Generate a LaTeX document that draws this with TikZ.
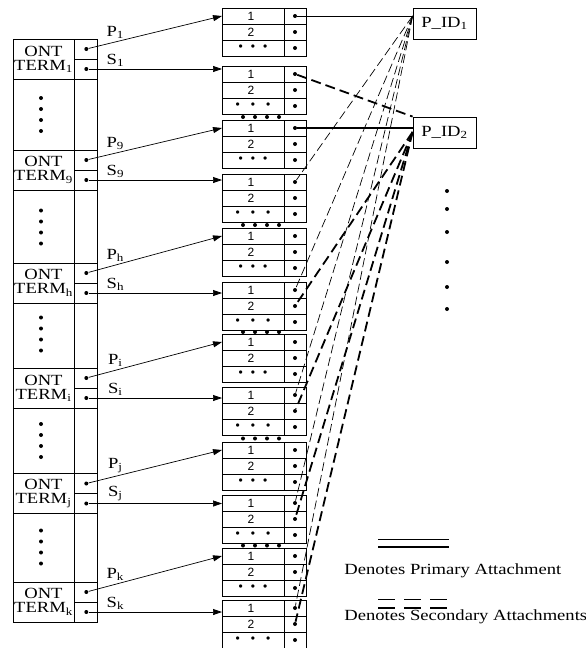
\documentclass[tikz,border=0pt]{standalone}
\usepackage{fontspec}
\setmainfont{Liberation Serif}[FakeStretch=1.2]
\newfontfamily\cellfont{Liberation Sans}
\usetikzlibrary{positioning,arrows.meta}

\begin{document}
\begin{tikzpicture}[x=1pt, y=-1pt, line width=0.8pt,
  term/.style={draw, minimum width=61pt, minimum height=40pt, align=center, inner sep=0pt, font=\fontsize{15.5}{14}\selectfont},
  ptr/.style={draw, minimum width=23pt, minimum height=20pt, inner sep=0pt},
  pt/.style={circle, fill, inner sep=0pt, minimum size=4pt},
  num/.style={font=\cellfont\fontsize{12}{12}\selectfont, inner sep=0pt},
  lbl/.style={font=\fontsize{15.5}{15}\selectfont, inner sep=1pt},
  pid/.style={draw, minimum width=63pt, minimum height=31pt, inner sep=0pt, font=\fontsize{15.5}{15}\selectfont},
  arr/.style={-{Triangle[length=9pt,width=6pt]}, line width=0.7pt},
  prim/.style={line width=0.7pt},
  sec/.style={line width=0.7pt, dash pattern=on 9pt off 4pt},
  primb/.style={line width=1.8pt},
  secb/.style={line width=1.8pt, dash pattern=on 10pt off 5pt},
]
  \useasboundingbox (0,0) rectangle (586,648);

  % ontology term column
  \draw (13,39) rectangle (97,622);
  \draw (74,39) -- (74,622);
  \foreach \n/\s/\y in {1/1/59, 2/9/170, 3/h/283, 4/i/388, 5/j/493.5, 6/k/602} {
    \node[term] (t\n) at (43.5,\y) {ONT\\TERM\textsubscript{\s}};
    \node[ptr, anchor=north west] (pc\n) at (t\n.north east) {};
    \node[ptr, anchor=south west] (sc\n) at (t\n.south east) {};
    \node[pt] (p\n) at (pc\n) {};
    \node[pt] (s\n) at (sc\n) {};
  }
  \foreach \y in {114.5, 227, 334, 440.5, 547}
    \foreach \d in {-16.5, -5.5, 5.5, 16.5}
      \fill (41,\y+\d) circle (2pt);

  % attachment blocks
  \foreach \n/\y/\g in {1/8/8, 2/66/11, 3/120/8, 4/174/11, 5/228/8, 6/282/11, 7/334/8, 8/387/11, 9/442/8, 10/495/11, 11/548/8, 12/600/11} {
    \draw (222,\y) rectangle (306,\y+48);
    \draw (284,\y) -- (284,\y+48);
    \draw (222,\y+16) -- (306,\y+16);
    \draw (222,\y+32) -- (306,\y+32);
    \node[num] at (251,\y+8) {1};
    \node[num] at (251,\y+24) {2};
    \node[num] at (253,\y+40) {•\hspace{\g pt}•\hspace{\g pt}•};
    \foreach \r in {1,2,3}
      \node[pt] (b\n-\r) at (295,\y+16*\r-8) {};
    \coordinate (b\n-in) at (222,\y+8);
  }
  \foreach \y in {117, 225, 332, 438.5, 545.5}
    \foreach \x in {243, 255, 267, 279}
      \fill (\x,\y) circle (2pt);

  % protein ids
  \node[pid] (pid1) at (444.5,23.5) {P\_ID\textsubscript{1}};
  \node[pid] (pid2) at (444.5,132.5) {P\_ID\textsubscript{2}};
  \foreach \y in {191, 209, 232, 262, 287, 309}
    \fill (447,\y) circle (2pt);

  % pointers
  \foreach \n/\s/\a/\b in {1/1/1/2, 2/9/3/4, 3/h/5/6, 4/i/7/8, 5/j/9/10, 6/k/11/12} {
    \draw[arr] (p\n) -- node[lbl, pos=0.2, above=2pt] {P\textsubscript{\s}} (b\a-in);
    \draw[arr] (s\n) -- node[lbl, pos=0.2, above=1pt] {S\textsubscript{\s}} (s\n -| b\b-in);
  }

  % attachments
  \coordinate (f1) at (b1-1 -| pid1.west);
  \coordinate (f2) at (b3-1 -| pid2.west);
  \draw[prim] (b1-1) -- (f1);
  \foreach \n in {4,6,8,10,12}
    \draw[sec] (f1) -- (b\n-1);
  \draw[primb] (b3-1) -- (f2);
  \draw[secb] (b2-1) -- (pid2.north west);
  \foreach \n in {6,8,10,12}
    \draw[secb] ([yshift=-4pt]f2) -- (b\n-2);

  % legend
  \coordinate (lg1a) at (378,539);
  \coordinate (lg1b) at (449,539);
  \coordinate (lg2a) at (378,599);
  \coordinate (lg2b) at (447,599);
  \draw[prim] (lg1a) -- (lg1b);
  \draw[primb] ([yshift=-8pt]lg1a) -- ([yshift=-8pt]lg1b);
  \node[lbl, anchor=base west] (lgt1) at (343,574) {Denotes Primary Attachment};
  \draw[prim, dash pattern=on 17pt off 9pt] (lg2a) -- (lg2b);
  \draw[primb, dash pattern=on 17pt off 9pt] ([yshift=-9pt]lg2a) -- ([yshift=-9pt]lg2b);
  \node[lbl, anchor=base west] (lgt2) at (343,620) {Denotes Secondary Attachments};
\end{tikzpicture}
\end{document}
